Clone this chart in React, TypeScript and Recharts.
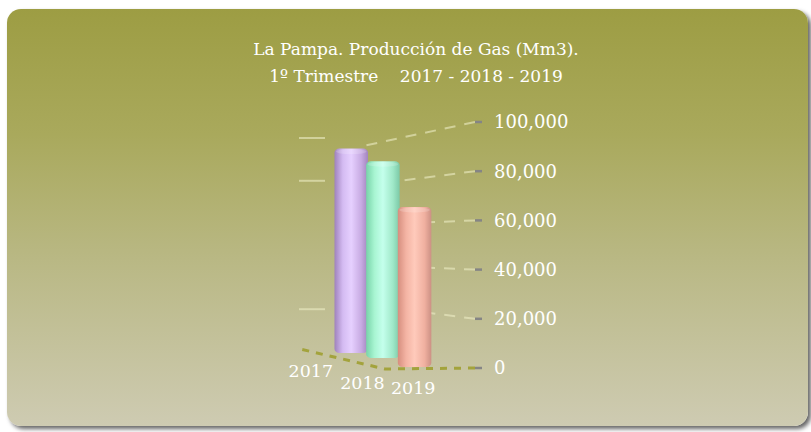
import * as React from 'react'
import { Bar, BarChart, CartesianGrid, XAxis, YAxis } from 'recharts'

const years = ['2017', '2018', '2019']
const production = [87000, 82000, 65000]
const yTicks = [0, 20000, 40000, 60000, 80000, 100000]
const titleLines = ['La Pampa. Producción de Gas (Mm3).', '1º Trimestre    2017 - 2018 - 2019']

const data = years.map((year, i) => ({ year, gas: production[i] }))

const W = 811
const H = 432
const FONT = '"DejaVu Serif", serif'
const MARGIN = { top: 122, right: 236, bottom: 34, left: 300 }
const HORIZON = MARGIN.top + (H - MARGIN.top - MARGIN.bottom - 30) / 2

// fake 3D: each bar sits a bit further back than the next one
const LIFT = [15, 10, 1]
const DEPTH = [0.955, 0.975, 1]
const LABEL_DX = [-40, -20, -1]
const LABEL_DY = [9, 21, 26]

const CYL = [
  ['#9f82bc', '#d4bbf2', '#e6d0ff', '#c7aae2', '#a285be'],
  ['#78d3a9', '#a8f5d2', '#c4ffec', '#9fe8c8', '#7cc9a7'],
  ['#d68e7e', '#f4b4a4', '#ffcabb', '#f0b0a0', '#cc9084'],
]

function Cylinder(props: any) {
  const { x, y, width, height, index } = props
  const bottom = y + height - LIFT[index]
  const h = height * DEPTH[index]
  const top = bottom - h
  const left = x - 0.5
  const w = width + 1.5
  return (
    <g>
      <rect x={left} y={top} width={w} height={h} rx={5} ry={4} fill={`url(#cyl-${index})`} />
      <ellipse cx={left + w / 2} cy={top + 3} rx={w / 2 - 1.5} ry={2.5} fill="#ffffff" opacity={0.18} />
    </g>
  )
}

function GridLine(props: any) {
  const { x1, x2, y1 } = props
  const light = 'rgba(236,236,196,0.6)'
  if (Math.abs(y1 - (H - MARGIN.bottom - 30)) < 2) {
    // floor edge
    return (
      <polyline
        points={`${x2},${y1} ${x2 - 90},${y1 + 1} ${x1},${y1 - 19}`}
        fill="none"
        stroke="#a3a33c"
        strokeWidth={3}
        strokeDasharray="7 7"
      />
    )
  }
  const yEnd = HORIZON + (y1 - HORIZON) * 0.8
  const yWall = HORIZON + (y1 - HORIZON) * 0.87
  return (
    <g>
      <line x1={x2} y1={y1} x2={x2 - 115} y2={yEnd} stroke={light} strokeWidth={2} strokeDasharray="11 9" />
      {Math.abs(y1 - HORIZON) > 50 && (
        <line x1={x1 - 1} y1={yWall} x2={x1 + 25} y2={yWall} stroke={light} strokeWidth={2} />
      )}
    </g>
  )
}

function YearTick(props: any) {
  const { x, y, payload, index } = props
  return (
    <text
      x={x + LABEL_DX[index]}
      y={y + LABEL_DY[index]}
      textAnchor="middle"
      fill="#ffffff"
      fontSize={17.5}
      fontFamily={FONT}
    >
      {payload.value}
    </text>
  )
}

export default function App() {
  return (
    <div style={{ position: 'absolute', left: 0, top: 0, width: W, height: H, background: '#ffffff' }}>
      <div
        style={{
          position: 'absolute',
          left: 7,
          top: 9,
          width: 801,
          height: 417,
          borderRadius: 14,
          background: 'linear-gradient(to bottom, #9d9d43 0%, #a9a95c 30%, #b9b884 60%, #cecbb2 100%)',
          boxShadow: '3px 3px 4px rgba(0,0,0,0.6)',
        }}
      />
      <div
        style={{
          position: 'absolute',
          left: 216,
          top: 36,
          width: 400,
          textAlign: 'center',
          color: '#ffffff',
          fontFamily: FONT,
          fontSize: 17,
          lineHeight: '27px',
          whiteSpace: 'pre',
        }}
      >
        {titleLines.map((line) => (
          <div key={line}>{line}</div>
        ))}
      </div>
      <div style={{ position: 'absolute', left: 0, top: 0 }}>
        <BarChart width={W} height={H} data={data} margin={MARGIN} barCategoryGap={0} barGap={0}>
          <defs>
            {CYL.map((stops, i) => (
              <linearGradient key={i} id={`cyl-${i}`} x1="0" y1="0" x2="1" y2="0">
                <stop offset="0%" stopColor={stops[0]} />
                <stop offset="25%" stopColor={stops[1]} />
                <stop offset="50%" stopColor={stops[2]} />
                <stop offset="80%" stopColor={stops[3]} />
                <stop offset="100%" stopColor={stops[4]} />
              </linearGradient>
            ))}
          </defs>
          <CartesianGrid vertical={false} horizontal={(p: any) => <GridLine key={p.key} {...p} />} />
          <XAxis
            dataKey="year"
            axisLine={false}
            tickLine={false}
            tickSize={0}
            tickMargin={0}
            height={30}
            padding={{ left: 35, right: 45 }}
            tick={<YearTick />}
            interval={0}
          />
          <YAxis
            orientation="right"
            width={100}
            domain={[0, 100000]}
            ticks={yTicks}
            axisLine={false}
            tickSize={7}
            tickMargin={12}
            tickLine={{ stroke: '#858585', strokeWidth: 2.5 }}
            tick={{ fill: '#ffffff', fontSize: 18, fontFamily: FONT }}
            tickFormatter={(v: number) => v.toLocaleString('en-US')}
          />
          <Bar dataKey="gas" shape={<Cylinder />} isAnimationActive={false} />
        </BarChart>
      </div>
    </div>
  )
}
